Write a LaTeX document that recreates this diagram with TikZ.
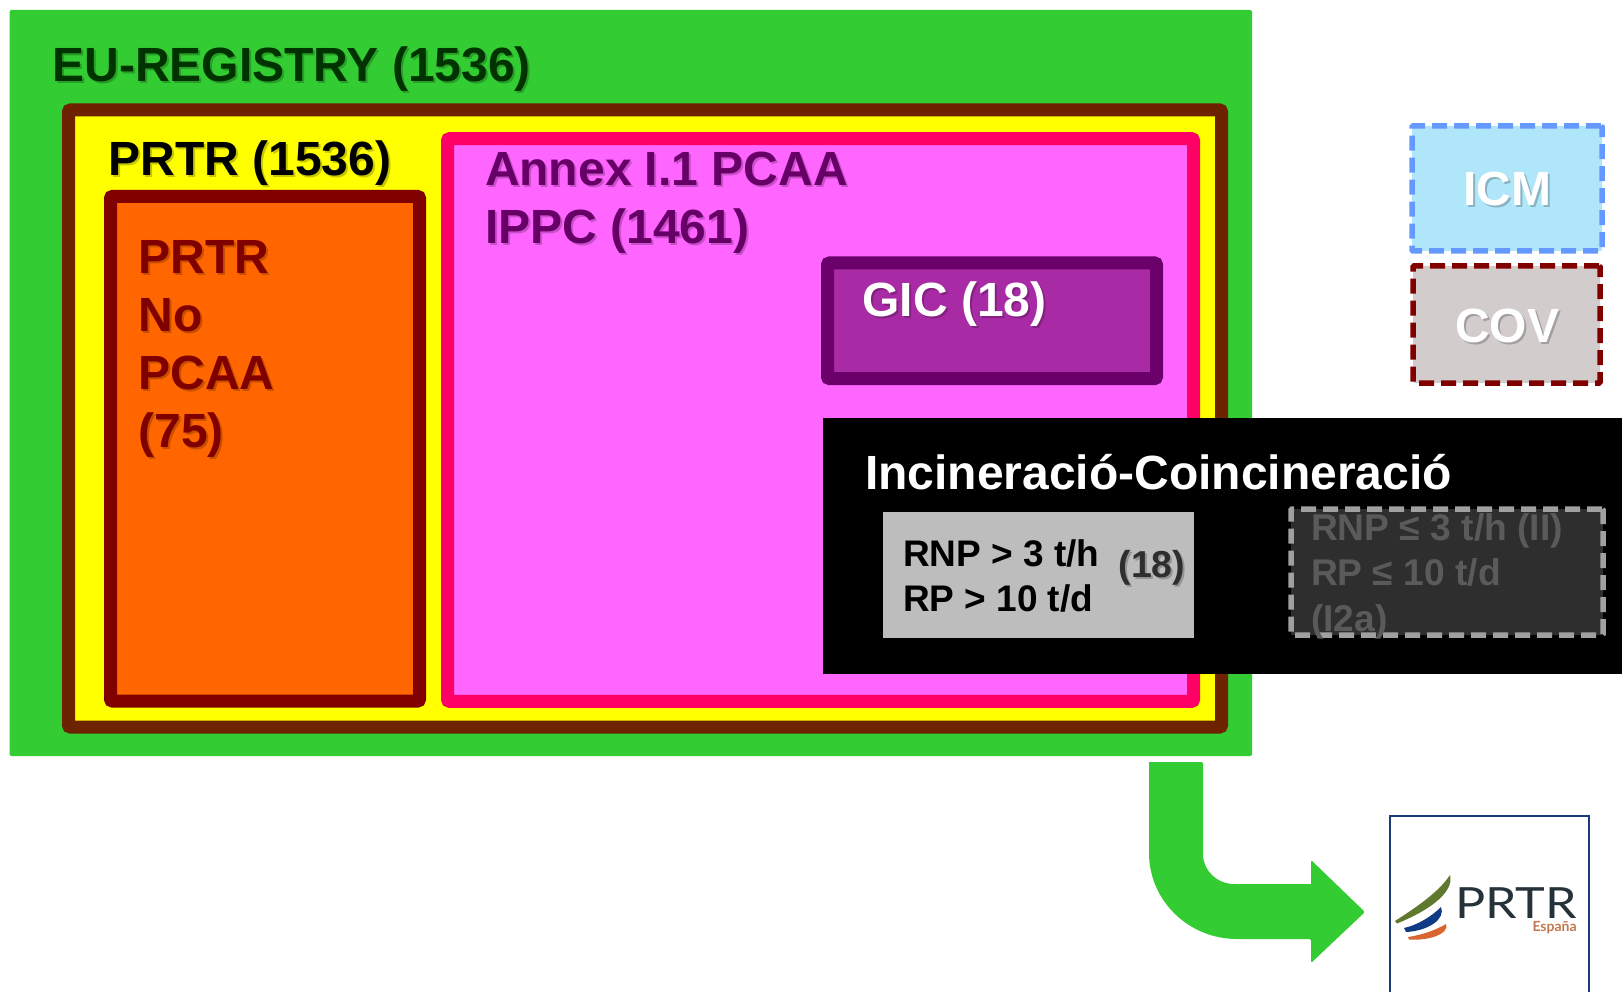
\documentclass[tikz,border=0pt]{standalone}
\usepackage{fontspec}
\setmainfont{Liberation Sans}
\newfontfamily\logofont{Lato}
\definecolor{cgreen}{HTML}{33CC33}
\definecolor{cbrown}{HTML}{6E2300}
\definecolor{cyel}{HTML}{FFFF00}
\definecolor{cdred}{HTML}{800000}
\definecolor{corange}{HTML}{FF6600}
\definecolor{cred}{HTML}{FF0066}
\definecolor{cpink}{HTML}{FF66FF}
\definecolor{cplum}{HTML}{660066}
\definecolor{cgicf}{HTML}{A92AA5}
\definecolor{cgicd}{HTML}{6B006B}
\definecolor{cgrey}{HTML}{BDBDBD}
\definecolor{cdark}{HTML}{2E2E2E}
\definecolor{cdash}{HTML}{A0A0A0}
\definecolor{cdtext}{HTML}{5A5A5A}
\definecolor{cicmf}{HTML}{B0E6FA}
\definecolor{cicmd}{HTML}{6699FF}
\definecolor{ccovf}{HTML}{D3CCCC}
\definecolor{cnavy}{HTML}{1A3A7A}
\definecolor{clogo}{HTML}{25323A}
\definecolor{cesp}{HTML}{C07850}
\definecolor{cl1}{HTML}{5F7A2E}
\definecolor{cl2}{HTML}{0F3B85}
\definecolor{cl3}{HTML}{D9662E}
\definecolor{cegr}{HTML}{003300}
\tikzset{
  panel/.style={rectangle,inner sep=0pt,outer sep=0pt,rounded corners=2pt,line width=13pt},
  flatbox/.style={rectangle,inner sep=0pt,outer sep=0pt},
  dashbox/.style={rectangle,inner sep=0pt,outer sep=0pt,rounded corners=1pt,line width=5.5pt,dash pattern=on 15pt off 7pt},
  lbl/.style={inner sep=0pt,outer sep=0pt,anchor=base west,font=\bfseries},
  soft/.style={text=black,text opacity=.22}
}
% plain label: name, x, y, size, leading, colour, lines
\newcommand{\lab}[7]{\node[lbl,text=#6] (#1) at (#2,#3) {\fontsize{#4}{#5}\selectfont\vtop{#7}};}
% label with a soft drop shadow
\newcommand{\slab}[7]{%
  \node[lbl,soft] at (#2+2,#3+2) {\fontsize{#4}{#5}\selectfont\vtop{#7}};
  \lab{#1}{#2}{#3}{#4}{#5}{#6}{#7}}
\newcommand{\lineT}[1]{\hbox{#1}}
\begin{document}
\begin{tikzpicture}[x=1pt,y=-1pt]
\useasboundingbox (0,0) rectangle (1622,992);
% nested panels
\node[flatbox,rounded corners=2pt,fill=cgreen,minimum width=1242.5pt,minimum height=746pt] (eu) at (630.75,383) {};
\node[panel,draw=cbrown,fill=cyel,minimum width=1153pt,minimum height=617pt] (prtr) at (645,418.5) {};
\node[panel,draw=cdred,fill=corange,minimum width=309pt,minimum height=504.5pt] (nopcaa) at (265,448.75) {};
\node[panel,draw=cred,fill=cpink,minimum width=746pt,minimum height=562.5pt] (annex) at (820.5,420) {};
\node[panel,draw=cgicd,fill=cgicf,minimum width=329pt,minimum height=115.5pt] (gic) at (992,320.75) {};
% black band
\node[flatbox,fill=black,minimum width=799pt,minimum height=256pt] (band) at (1222.5,546) {};
\node[flatbox,fill=cgrey,minimum width=311pt,minimum height=126pt] (big) at (1038.5,575) {};
\node[dashbox,draw=cdash,fill=cdark,minimum width=312pt,minimum height=126pt] (small) at (1447,572) {};
% legend
\node[dashbox,draw=cicmd,fill=cicmf,minimum width=190pt,minimum height=125pt] (icm) at (1507,188.5) {};
\node[dashbox,draw=cdred,fill=ccovf,minimum width=187pt,minimum height=117pt] (cov) at (1506.5,324.5) {};
% labels
\slab{teu}{52.5}{82}{48}{58}{cegr}{\lineT{EU-REGISTRY (1536)}}
\slab{tprtr}{108.5}{176}{48}{58}{black}{\lineT{PRTR (1536)}}
\slab{tno}{138.5}{274}{48}{57.7}{cdred}{\lineT{PRTR}\lineT{No}\lineT{PCAA}\lineT{(75)}}
\slab{tannex}{485}{186}{48}{58}{cplum}{\lineT{Annex I.1 PCAA}\lineT{IPPC (1461)}}
\slab{tgic}{862.5}{316.5}{48}{58}{white}{\lineT{GIC (18)}}
\lab{tinc}{865}{489}{48}{58}{white}{\lineT{Incineració-Coincineració}}
\lab{tbig}{903}{566}{37}{45}{black}{\lineT{RNP > 3 t/h}\lineT{RP > 10 t/d}}
\slab{tn}{1118.5}{577.5}{37.5}{44}{cdark}{\lineT{(18)}}
\lab{tsmall}{1311}{540}{37.2}{45.5}{cdtext}{\lineT{RNP ≤ 3 t/h (II)}\lineT{RP ≤ 10 t/d}\lineT{(I2a)}}
\slab{ticm}{1463}{206}{48}{58}{white}{\lineT{ICM}}
\slab{tcov}{1455}{342}{48}{58}{white}{\lineT{COV}}
% logo frame
\draw[cnavy,line width=2pt] (1389.5,992) -- (1389.5,815.5) -- (1588.5,815.5) -- (1588.5,992);
\node[inner sep=0pt,outer sep=0pt,anchor=base west,text=clogo,xscale=1.17] (logo) at (1455,918) {\fontsize{43}{43}\selectfont\logofont PRTR};
\node[inner sep=0pt,outer sep=0pt,anchor=base west,text=cesp] (esp) at (1532.5,931) {\fontsize{14}{14}\selectfont\logofont\bfseries España};
\fill[cl1] (1395,921) .. controls (1415,908) and (1438,893) .. (1450,875) .. controls (1454,890) and (1435,908) .. (1397,923.5) -- cycle;
\fill[cl2] (1404,928) .. controls (1418,925) and (1432,916) .. (1441,907) .. controls (1446,919) and (1428,931) .. (1406,932) -- cycle;
\fill[cl3] (1408,937) .. controls (1422,935) and (1436,930) .. (1446,924) .. controls (1450,934) and (1428,941) .. (1409,939.5) -- cycle;
% bent arrow from the registry panel to the logo
\fill[cgreen,rounded corners=1.5pt] (1149,762) -- (1203,762) -- (1203,853)
  [sharp corners] arc[start angle=180,end angle=90,radius=31] -- (1311,884)
  [rounded corners=1.5pt] -- (1311,860) -- (1365,912) -- (1311,963) -- (1311,939) [sharp corners]
  -- (1237,939) arc[start angle=90,end angle=180,x radius=88,y radius=86] -- cycle;
\end{tikzpicture}
\end{document}
